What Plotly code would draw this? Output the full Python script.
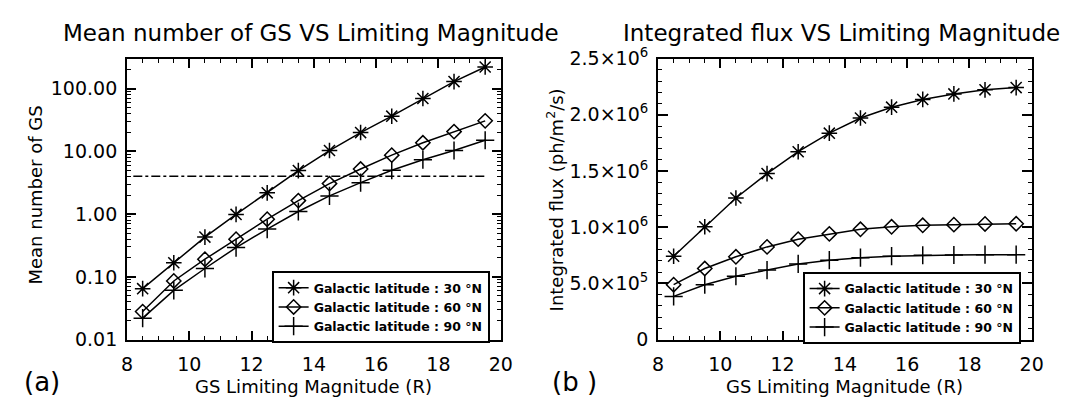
import plotly.graph_objects as go

# ---- data ----
mag = [8.5, 9.5, 10.5, 11.5, 12.5, 13.5, 14.5, 15.5, 16.5, 17.5, 18.5, 19.5]

gs_30 = [0.065, 0.168, 0.43, 0.99, 2.18, 4.93, 10.3, 19.9, 36.3, 69.3, 129, 220]
gs_60 = [0.028, 0.086, 0.191, 0.398, 0.83, 1.64, 3.06, 5.22, 8.7, 13.7, 20.6, 30.6]
gs_90 = [0.022, 0.061, 0.136, 0.293, 0.578, 1.10, 1.95, 3.17, 5.0, 7.34, 10.3, 15.0]

threshold_x = [8.2, 19.5]
threshold_y = [4.0, 4.0]

flux_30 = [0.742e6, 1.004e6, 1.26e6, 1.477e6, 1.672e6, 1.837e6, 1.972e6, 2.068e6,
           2.137e6, 2.186e6, 2.222e6, 2.242e6]
flux_60 = [0.489e6, 0.633e6, 0.737e6, 0.825e6, 0.894e6, 0.941e6, 0.982e6, 1.004e6,
           1.017e6, 1.023e6, 1.029e6, 1.031e6]
flux_90 = [0.385e6, 0.489e6, 0.564e6, 0.619e6, 0.674e6, 0.707e6, 0.729e6, 0.743e6,
           0.751e6, 0.753e6, 0.756e6, 0.756e6]

series_names = ["Galactic latitude : 30 °N", "Galactic latitude : 60 °N",
                "Galactic latitude : 90 °N"]

left_tickvals = [0.01, 0.1, 1, 10, 100]
left_ticktext = ["0.01", "0.10", "1.00", "10.00", "100.00"]
left_minor = [m * 10.0 ** e for e in range(-2, 3) for m in range(2, 10)]

right_tickvals = [0, 0.5e6, 1.0e6, 1.5e6, 2.0e6, 2.5e6]
right_ticktext = ["0", "5.0×10<sup>5</sup>", "1.0×10<sup>6</sup>", "1.5×10<sup>6</sup>",
                  "2.0×10<sup>6</sup>", "2.5×10<sup>6</sup>"]

x_tickvals = [8, 10, 12, 14, 16, 18, 20]

# ---- style ----
FONT = "DejaVu Sans"
symbols = ["asterisk-open", "diamond-open", "cross-thin-open"]
msizes = [13, 11, 13]

fig = go.Figure()

for ys, nm, sym, ms in zip([gs_30, gs_60, gs_90], series_names, symbols, msizes):
    fig.add_trace(go.Scatter(
        x=mag, y=ys, mode="lines+markers", name=nm, xaxis="x", yaxis="y",
        line=dict(color="black", width=1.5),
        marker=dict(symbol=sym, size=ms, color="black", line=dict(color="black", width=1.5)),
        legend="legend"))

fig.add_trace(go.Scatter(
    x=threshold_x, y=threshold_y, mode="lines", xaxis="x", yaxis="y",
    line=dict(color="black", width=1.5, dash="dashdot"), showlegend=False))

for ys, nm, sym, ms in zip([flux_30, flux_60, flux_90], series_names, symbols, msizes):
    fig.add_trace(go.Scatter(
        x=mag, y=ys, mode="lines+markers", name=nm, xaxis="x2", yaxis="y2",
        line=dict(color="black", width=1.5),
        marker=dict(symbol=sym, size=ms, color="black", line=dict(color="black", width=1.5)),
        legend="legend2"))

W, H = 1078, 400
ydom = [1 - 339 / H, 1 - 40 / H]

common_x = dict(
    range=[8, 20], tickvals=x_tickvals, ticks="inside", ticklen=9, tickwidth=1.5,
    tickcolor="black", showline=True, linewidth=2, linecolor="black", mirror="allticks",
    showgrid=False, zeroline=False, tickfont=dict(family=FONT, size=19, color="black"),
    ticklabelstandoff=7,
    minor=dict(dtick=0.5, ticks="inside", ticklen=4, tickwidth=1.2, tickcolor="black",
               showgrid=False))

fig.update_layout(
    width=W, height=H,
    margin=dict(l=0, r=0, t=0, b=0),
    paper_bgcolor="white", plot_bgcolor="white",
    font=dict(family=FONT, color="black"),
    xaxis=dict(domain=[115 / W, 495 / W], anchor="y", **common_x),
    xaxis2=dict(domain=[655 / W, 1035 / W], anchor="y2", **common_x),
    yaxis=dict(
        domain=ydom, anchor="x", type="log", range=[-2, 2.4771],
        tickmode="array", tickvals=left_tickvals, ticktext=left_ticktext,
        ticks="inside", ticklen=9, tickwidth=1.5, tickcolor="black",
        showline=True, linewidth=2, linecolor="black", mirror="allticks",
        showgrid=False, zeroline=False, ticklabelstandoff=4,
        tickfont=dict(family=FONT, size=19, color="black"),
        minor=dict(tickvals=left_minor, ticks="inside", ticklen=4, tickwidth=1.2,
                   tickcolor="black", showgrid=False)),
    yaxis2=dict(
        domain=ydom, anchor="x2", range=[0, 2.5e6],
        tickmode="array", tickvals=right_tickvals, ticktext=right_ticktext,
        ticks="inside", ticklen=10, tickwidth=1.5, tickcolor="black",
        showline=True, linewidth=2, linecolor="black", mirror="allticks",
        showgrid=False, zeroline=False, ticklabelstandoff=4,
        tickfont=dict(family=FONT, size=19, color="black"),
        minor=dict(dtick=1e5, ticks="inside", ticklen=4, tickwidth=1.2,
                   tickcolor="black", showgrid=False)),
    legend=dict(x=262 / W, y=1 - 266 / H, xanchor="left", yanchor="top",
                bgcolor="white", bordercolor="black", borderwidth=2,
                font=dict(family=FONT, size=12.5, color="black", weight="bold"),
                itemwidth=30, tracegroupgap=0),
    legend2=dict(x=802 / W, y=1 - 267 / H, xanchor="left", yanchor="top",
                 bgcolor="white", bordercolor="black", borderwidth=2,
                 font=dict(family=FONT, size=12.5, color="black", weight="bold"),
                 itemwidth=30, tracegroupgap=0),
    showlegend=True,
)

annos = [
    dict(text="Mean number of GS VS Limiting Magnitude", x=302 / W, y=1 - 13 / H,
         font=dict(size=23)),
    dict(text="Integrated flux VS Limiting Magnitude", x=842 / W, y=1 - 13 / H,
         font=dict(size=23)),
    dict(text="GS Limiting Magnitude (R)", x=305 / W, y=1 - 389 / H, font=dict(size=18)),
    dict(text="GS Limiting Magnitude (R)", x=845 / W, y=1 - 389 / H, font=dict(size=18)),
    dict(text="Mean number of GS", x=22 / W, y=1 - 185 / H, textangle=-90,
         font=dict(size=18)),
    dict(text="Integrated flux (ph/m<sup>2</sup>/s)", x=550 / W, y=1 - 190 / H,
         textangle=-90, font=dict(size=18)),
    dict(text="(a)", x=28 / W, y=1 - 384 / H, font=dict(size=26)),
    dict(text="(b )", x=570 / W, y=1 - 384 / H, font=dict(size=26)),
]
for a in annos:
    a.update(xref="paper", yref="paper", showarrow=False, xanchor="center",
             yanchor="middle")
    a["font"].update(family=FONT, color="black")
    fig.add_annotation(**a)

fig.write_html("out.html")
